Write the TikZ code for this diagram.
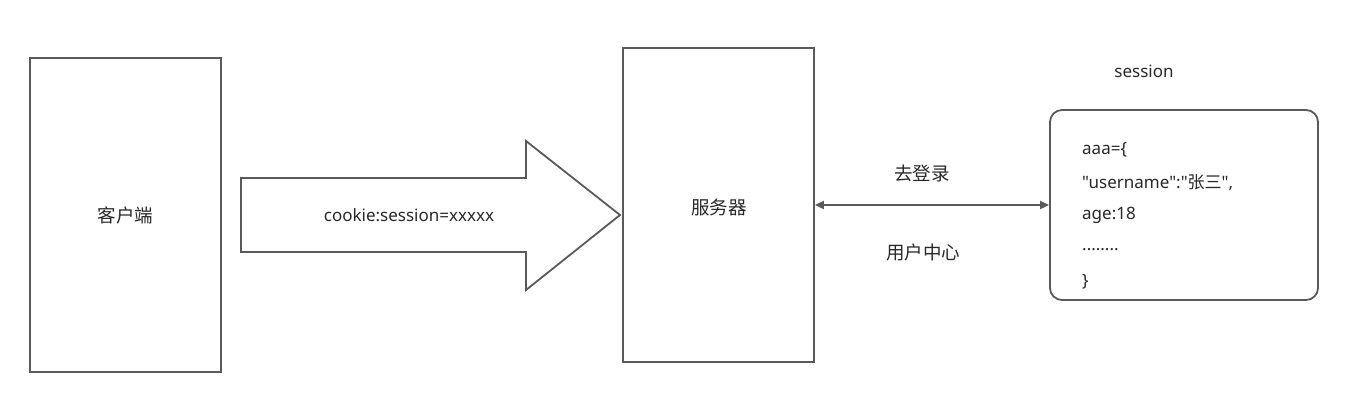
\documentclass[tikz,border=0pt]{standalone}
\usepackage{fontspec}
\setmainfont{Noto Sans}[Ligatures=TeXOff]
\newfontfamily\cjk{Noto Sans CJK SC}
\usetikzlibrary{arrows.meta}
\definecolor{edge}{RGB}{90,90,90}
\definecolor{txt}{RGB}{40,40,40}
\begin{document}
\begin{tikzpicture}[x=1pt,y=-1pt,
  box/.style={draw=edge,line width=1.8pt,fill=white},
  lbl/.style={text=txt,font=\fontsize{17}{20}\selectfont,inner sep=0pt},
  clbl/.style={text=txt,font=\cjk\fontsize{18.5}{21}\selectfont,inner sep=0pt},
  link/.style={draw=edge,line width=1.8pt,{Triangle[length=9pt,width=8pt]}-{Triangle[length=9pt,width=8pt]}}]
\useasboundingbox (0,0) rectangle (1361,420);
\node[box,minimum width=191pt,minimum height=314pt,inner sep=0pt] (client) at (125.5,215) {};
\node[clbl] at (client.center) {客户端};
\node[box,minimum width=191pt,minimum height=314pt,inner sep=0pt] (server) at (718.5,205) {};
\node[clbl] at (719,207) {服务器};
\draw[draw=edge,line width=1.8pt,fill=white] (241,178) -- (526,178) -- (526,141) -- (620,215) -- (526,290) -- (526,252) -- (241,252) -- cycle;
\coordinate (tip) at (620,215);
\node[lbl] (cookie) at (409,215) {cookie:session=xxxxx};
\node[box,rounded corners=12pt,minimum width=268pt,minimum height=190pt,inner sep=0pt] (sess) at (1184,205) {};
\node[lbl] (stitle) at (1144,71) {session};
\draw[link] (server.east) -- (sess.west);
\node[clbl] (go) at (922,173) {去登录};
\node[clbl] (uc) at (923,252) {用户中心};
\node[lbl,anchor=west] at (1082,150) {aaa=\{};
\node[lbl,anchor=west] at (1082,183) {"username":"{\cjk 张三}",};
\node[lbl,anchor=west] at (1082,215) {age:18};
\node[lbl,anchor=west] at (1082,250) {........};
\node[lbl,anchor=west] at (1082,282) {\}};
\end{tikzpicture}
\end{document}
